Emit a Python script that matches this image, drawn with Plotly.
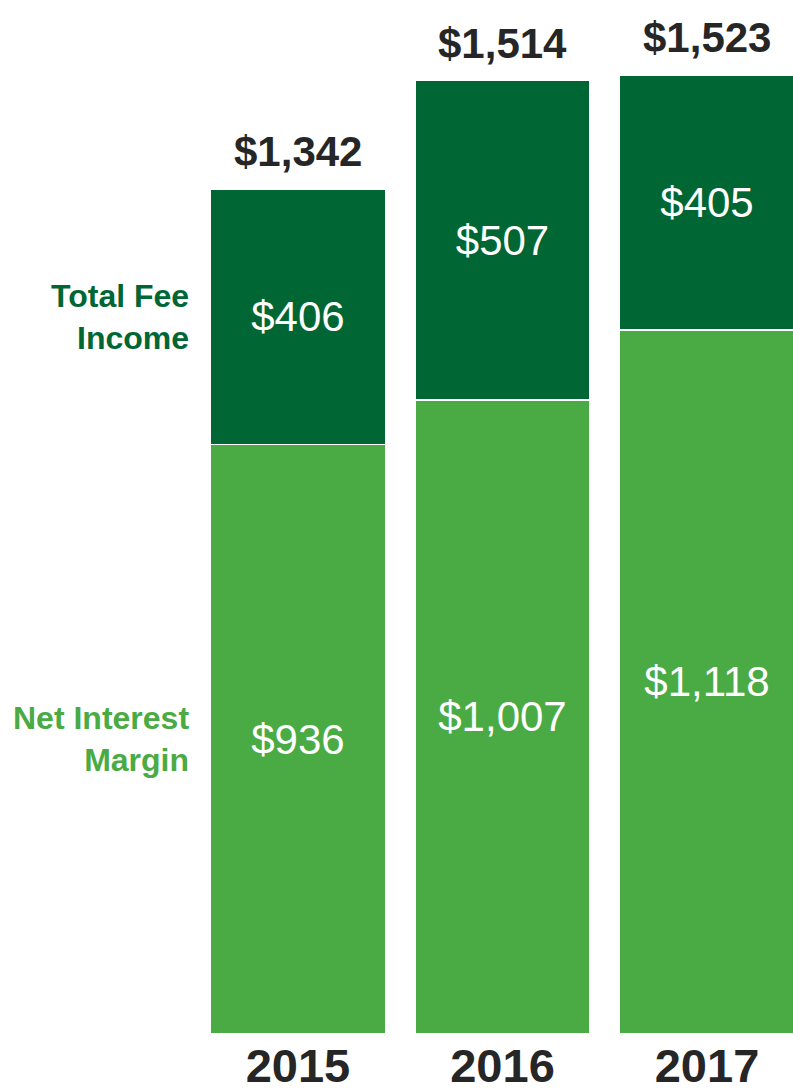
import plotly.graph_objects as go

years = ["2015", "2016", "2017"]
net_interest_margin = [936, 1007, 1118]
total_fee_income = [406, 507, 405]
totals = [1342, 1514, 1523]

DARK = "#006633"
LIGHT = "#4aab45"
TXT = "#262626"
FONT = "Liberation Sans, Arial, sans-serif"

fig = go.Figure()
fig.add_trace(go.Bar(
    x=years, y=net_interest_margin, name="Net Interest Margin",
    marker=dict(color=LIGHT, line=dict(color="white", width=1.5)),
    text=[f"${v:,}" for v in net_interest_margin], textposition="inside",
    insidetextanchor="middle", textangle=0,
    textfont=dict(family=FONT, size=42, color="white"),
))
fig.add_trace(go.Bar(
    x=years, y=total_fee_income, name="Total Fee Income",
    marker=dict(color=DARK, line=dict(color="white", width=1.5)),
    text=[f"${v:,}" for v in total_fee_income], textposition="inside",
    insidetextanchor="middle", textangle=0,
    textfont=dict(family=FONT, size=42, color="white"),
))

for i, t in enumerate(totals):
    fig.add_annotation(x=i, y=t, xref="x", yref="y", text=f"<b>${t:,}</b>",
                       showarrow=False, yanchor="bottom", yshift=12,
                       font=dict(family=FONT, size=42, color=TXT))

fig.add_annotation(xref="paper", yref="y", x=191/793,
                   y=net_interest_margin[0] + total_fee_income[0] / 2,
                   text="<b>Total Fee<br>Income</b>", showarrow=False,
                   xanchor="right", align="right", yanchor="middle",
                   font=dict(family=FONT, size=32, color=DARK))
fig.add_annotation(xref="paper", yref="y", x=191/793,
                   y=net_interest_margin[0] / 2,
                   text="<b>Net Interest<br>Margin</b>", showarrow=False,
                   xanchor="right", align="right", yanchor="middle",
                   font=dict(family=FONT, size=32, color=LIGHT))

fig.update_layout(
    width=793, height=1089,
    margin=dict(l=0, r=0, t=0, b=55, autoexpand=False),
    barmode="stack", bargap=0.144,
    showlegend=False,
    plot_bgcolor="white", paper_bgcolor="white",
    uniformtext=dict(mode=False),
)
fig.update_xaxes(type="category", range=[-1.457, 2.4205], showgrid=False,
                 showline=False, ticks="", automargin=False,
                 tickfont=dict(family=FONT, size=47, color=TXT),
                 tickprefix="<b>", ticksuffix="</b>")
fig.update_yaxes(range=[0, 1642], visible=False, automargin=False)

fig.write_html("out.html", config={"displayModeBar": False},
               post_script="document.body.style.margin='0';"
                           "document.body.style.overflow='hidden';")
